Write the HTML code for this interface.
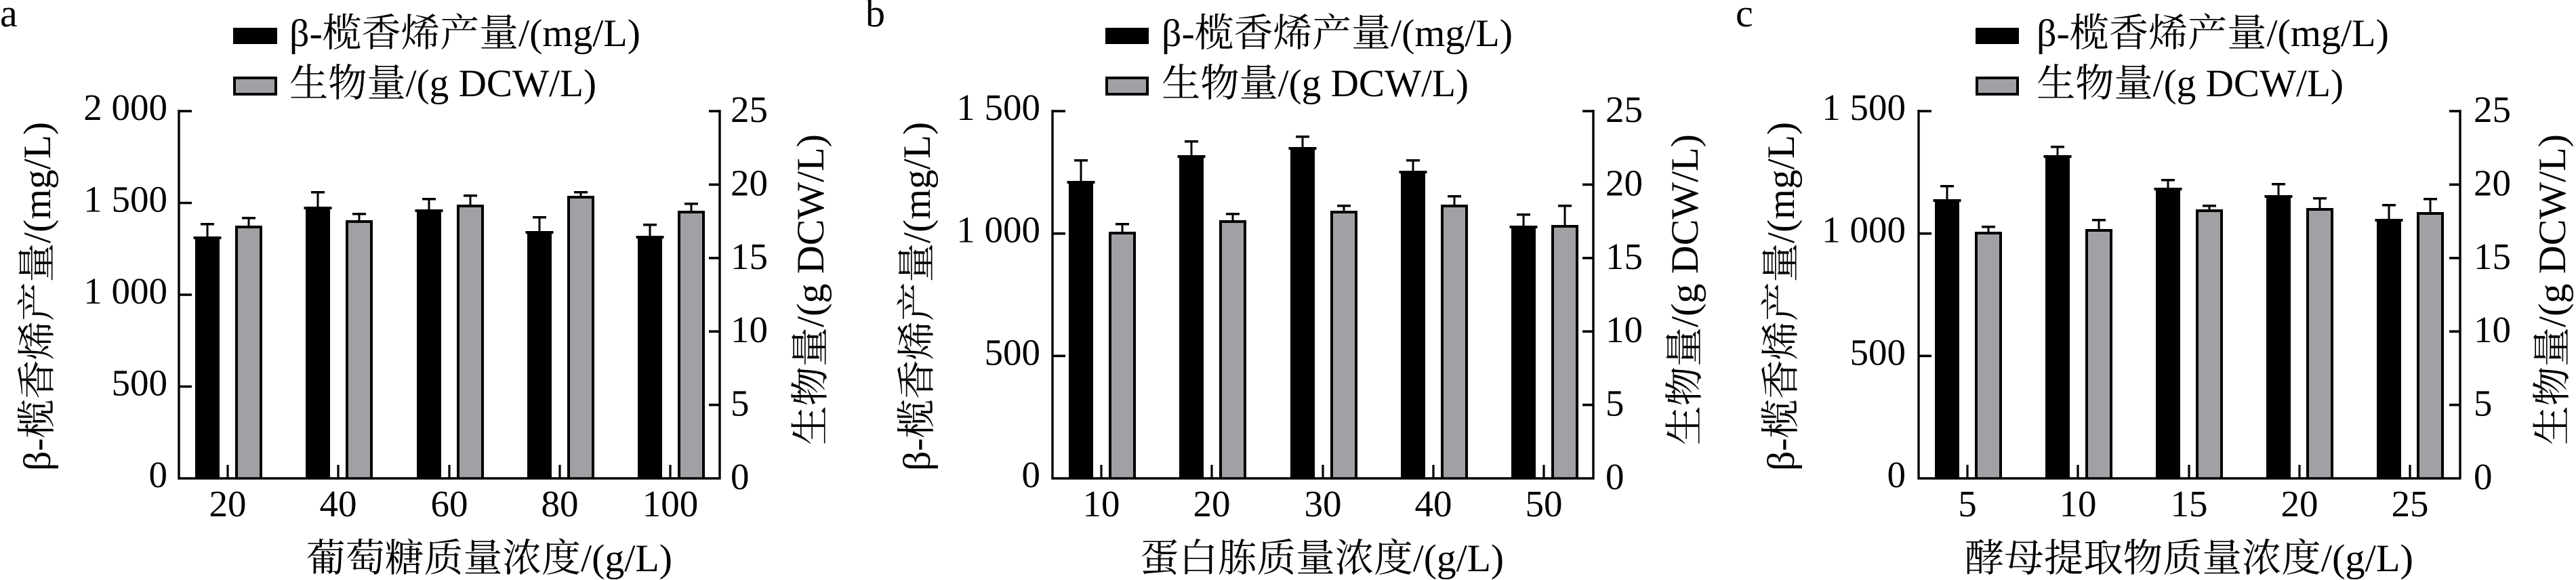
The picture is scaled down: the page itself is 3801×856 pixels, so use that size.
<!DOCTYPE html>
<html><head><meta charset="utf-8"><style>
html,body{margin:0;padding:0;background:#fff;}
svg{display:block;}
text{font-family:"Liberation Serif","Noto Serif CJK SC",serif;fill:#000;}
.t{font-size:55px;}
.l{font-size:57px;}
.ax{fill:none;stroke:#000;stroke-width:3.4;}
.tk{fill:none;stroke:#000;stroke-width:3.6;}
.xt{fill:none;stroke:#000;stroke-width:3.2;}
.g{fill:#a0a1a5;}
</style></head><body>
<svg xmlns="http://www.w3.org/2000/svg" width="3801" height="856" viewBox="0 0 3801 856">
<rect width="3801" height="856" fill="#fff"/>

<!-- ================= PANEL A ================= -->
<text x="0" y="39" font-size="58">a</text>
<rect x="344" y="41" width="65" height="24" fill="#000"/>
<rect x="346" y="115" width="61" height="24" class="g" stroke="#000" stroke-width="4"/>
<text x="427" y="68" class="l" textLength="518" lengthAdjust="spacingAndGlyphs">β-榄香烯产量/(mg/L)</text>
<text x="427" y="142" class="l" textLength="453" lengthAdjust="spacingAndGlyphs">生物量/(g DCW/L)</text>

<g fill="#000">
<g transform="translate(306 0)"><path d="M-18 349H18V706H-18Z M-20.5 349h41v4h-41Z M-1.5 329h3V349h-3Z M-10 329h20v3.5h-20Z"/></g>
<g transform="translate(367 0)"><path d="M-20 333H20V706H-20Z M-1.5 320h3V333h-3Z M-10 320h20v3.5h-20Z"/><rect x="-16" y="337" width="32" height="369" class="g"/></g>
<g transform="translate(469 0)"><path d="M-18 305H18V706H-18Z M-20.5 305h41v4h-41Z M-1.5 282h3V305h-3Z M-10 282h20v3.5h-20Z"/></g>
<g transform="translate(530 0)"><path d="M-20 325H20V706H-20Z M-1.5 314h3V325h-3Z M-10 314h20v3.5h-20Z"/><rect x="-16" y="329" width="32" height="377" class="g"/></g>
<g transform="translate(633 0)"><path d="M-18 309H18V706H-18Z M-20.5 309h41v4h-41Z M-1.5 292h3V309h-3Z M-10 292h20v3.5h-20Z"/></g>
<g transform="translate(694 0)"><path d="M-20 302H20V706H-20Z M-1.5 287h3V302h-3Z M-10 287h20v3.5h-20Z"/><rect x="-16" y="306" width="32" height="400" class="g"/></g>
<g transform="translate(796 0)"><path d="M-18 341H18V706H-18Z M-20.5 341h41v4h-41Z M-1.5 319h3V341h-3Z M-10 319h20v3.5h-20Z"/></g>
<g transform="translate(857 0)"><path d="M-20 289H20V706H-20Z M-1.5 282h3V289h-3Z M-10 282h20v3.5h-20Z"/><rect x="-16" y="293" width="32" height="413" class="g"/></g>
<g transform="translate(959 0)"><path d="M-18 348H18V706H-18Z M-20.5 348h41v4h-41Z M-1.5 330h3V348h-3Z M-10 330h20v3.5h-20Z"/></g>
<g transform="translate(1020 0)"><path d="M-20 311H20V706H-20Z M-1.5 299h3V311h-3Z M-10 299h20v3.5h-20Z"/><rect x="-16" y="315" width="32" height="391" class="g"/></g>
</g>

<path class="ax" d="M264 162V706H1062V162"/>
<path class="tk" d="M264 570.5h19M264 435h19M264 299.5h19M264 164h19"/>
<path class="tk" d="M1062 597.6h-16M1062 489.2h-16M1062 380.8h-16M1062 272.4h-16M1062 164h-16"/>
<path class="xt" d="M336 706v-20M499 706v-20M663 706v-20M826 706v-20M989 706v-20"/>

<g class="t" text-anchor="end">
<text x="247" y="177">2 000</text>
<text x="247" y="312.5">1 500</text>
<text x="247" y="448">1 000</text>
<text x="247" y="583.5">500</text>
<text x="247" y="719">0</text>
</g>
<g class="t">
<text x="1078" y="180">25</text>
<text x="1078" y="288.4">20</text>
<text x="1078" y="396.8">15</text>
<text x="1078" y="505.2">10</text>
<text x="1078" y="613.6">5</text>
<text x="1078" y="722">0</text>
</g>
<g class="t" text-anchor="middle">
<text x="336" y="762">20</text>
<text x="499" y="762">40</text>
<text x="663" y="762">60</text>
<text x="826" y="762">80</text>
<text x="989" y="762">100</text>
</g>
<text class="l" transform="translate(74 437.5) rotate(-90)" text-anchor="middle" textLength="515" lengthAdjust="spacingAndGlyphs">β-榄香烯产量/(mg/L)</text>
<text class="l" transform="translate(1215 427.5) rotate(-90)" text-anchor="middle" textLength="459" lengthAdjust="spacingAndGlyphs">生物量/(g DCW/L)</text>
<text class="l" x="452" y="843" textLength="540" lengthAdjust="spacingAndGlyphs">葡萄糖质量浓度/(g/L)</text>

<!-- ================= PANEL B ================= -->
<text x="1277" y="39" font-size="58">b</text>
<rect x="1631" y="41" width="64" height="24" fill="#000"/>
<rect x="1633" y="115" width="60" height="24" class="g" stroke="#000" stroke-width="4"/>
<text x="1714" y="68" class="l" textLength="518" lengthAdjust="spacingAndGlyphs">β-榄香烯产量/(mg/L)</text>
<text x="1714" y="142" class="l" textLength="453" lengthAdjust="spacingAndGlyphs">生物量/(g DCW/L)</text>

<g fill="#000">
<g transform="translate(1595 0)"><path d="M-18 267H18V706H-18Z M-20.5 267h41v4h-41Z M-1.5 235h3V267h-3Z M-10 235h20v3.5h-20Z"/></g>
<g transform="translate(1656 0)"><path d="M-20 342H20V706H-20Z M-1.5 329h3V342h-3Z M-10 329h20v3.5h-20Z"/><rect x="-16" y="346" width="32" height="360" class="g"/></g>
<g transform="translate(1758 0)"><path d="M-18 229H18V706H-18Z M-20.5 229h41v4h-41Z M-1.5 207h3V229h-3Z M-10 207h20v3.5h-20Z"/></g>
<g transform="translate(1819 0)"><path d="M-20 325H20V706H-20Z M-1.5 314h3V325h-3Z M-10 314h20v3.5h-20Z"/><rect x="-16" y="329" width="32" height="377" class="g"/></g>
<g transform="translate(1922 0)"><path d="M-18 217H18V706H-18Z M-20.5 217h41v4h-41Z M-1.5 200h3V217h-3Z M-10 200h20v3.5h-20Z"/></g>
<g transform="translate(1983 0)"><path d="M-20 311H20V706H-20Z M-1.5 302h3V311h-3Z M-10 302h20v3.5h-20Z"/><rect x="-16" y="315" width="32" height="391" class="g"/></g>
<g transform="translate(2085 0)"><path d="M-18 252H18V706H-18Z M-20.5 252h41v4h-41Z M-1.5 235h3V252h-3Z M-10 235h20v3.5h-20Z"/></g>
<g transform="translate(2146 0)"><path d="M-20 302H20V706H-20Z M-1.5 288h3V302h-3Z M-10 288h20v3.5h-20Z"/><rect x="-16" y="306" width="32" height="400" class="g"/></g>
<g transform="translate(2248 0)"><path d="M-18 333H18V706H-18Z M-20.5 333h41v4h-41Z M-1.5 315h3V333h-3Z M-10 315h20v3.5h-20Z"/></g>
<g transform="translate(2309 0)"><path d="M-20 332H20V706H-20Z M-1.5 302h3V332h-3Z M-10 302h20v3.5h-20Z"/><rect x="-16" y="336" width="32" height="370" class="g"/></g>
</g>

<path class="ax" d="M1553 162V706H2351V162"/>
<path class="tk" d="M1553 525.3h19M1553 344.7h19M1553 164h19"/>
<path class="tk" d="M2351 597.6h-16M2351 489.2h-16M2351 380.8h-16M2351 272.4h-16M2351 164h-16"/>
<path class="xt" d="M1625 706v-20M1788 706v-20M1952 706v-20M2115 706v-20M2278 706v-20"/>

<g class="t" text-anchor="end">
<text x="1535" y="177">1 500</text>
<text x="1535" y="357.7">1 000</text>
<text x="1535" y="538.3">500</text>
<text x="1535" y="719">0</text>
</g>
<g class="t">
<text x="2369" y="180">25</text>
<text x="2369" y="288.4">20</text>
<text x="2369" y="396.8">15</text>
<text x="2369" y="505.2">10</text>
<text x="2369" y="613.6">5</text>
<text x="2369" y="722">0</text>
</g>
<g class="t" text-anchor="middle">
<text x="1625" y="762">10</text>
<text x="1788" y="762">20</text>
<text x="1952" y="762">30</text>
<text x="2115" y="762">40</text>
<text x="2278" y="762">50</text>
</g>
<text class="l" transform="translate(1372 437.5) rotate(-90)" text-anchor="middle" textLength="515" lengthAdjust="spacingAndGlyphs">β-榄香烯产量/(mg/L)</text>
<text class="l" transform="translate(2505 427.5) rotate(-90)" text-anchor="middle" textLength="459" lengthAdjust="spacingAndGlyphs">生物量/(g DCW/L)</text>
<text class="l" x="1682" y="843" textLength="537" lengthAdjust="spacingAndGlyphs">蛋白胨质量浓度/(g/L)</text>

<!-- ================= PANEL C ================= -->
<text x="2561" y="39" font-size="58">c</text>
<rect x="2915" y="41" width="64" height="24" fill="#000"/>
<rect x="2917" y="115" width="60" height="24" class="g" stroke="#000" stroke-width="4"/>
<text x="3005" y="68" class="l" textLength="520" lengthAdjust="spacingAndGlyphs">β-榄香烯产量/(mg/L)</text>
<text x="3005" y="142" class="l" textLength="453" lengthAdjust="spacingAndGlyphs">生物量/(g DCW/L)</text>

<g fill="#000">
<g transform="translate(2873 0)"><path d="M-18 294H18V706H-18Z M-20.5 294h41v4h-41Z M-1.5 273h3V294h-3Z M-10 273h20v3.5h-20Z"/></g>
<g transform="translate(2934 0)"><path d="M-20 342H20V706H-20Z M-1.5 333h3V342h-3Z M-10 333h20v3.5h-20Z"/><rect x="-16" y="346" width="32" height="360" class="g"/></g>
<g transform="translate(3036 0)"><path d="M-18 229H18V706H-18Z M-20.5 229h41v4h-41Z M-1.5 215h3V229h-3Z M-10 215h20v3.5h-20Z"/></g>
<g transform="translate(3097 0)"><path d="M-20 338H20V706H-20Z M-1.5 323h3V338h-3Z M-10 323h20v3.5h-20Z"/><rect x="-16" y="342" width="32" height="364" class="g"/></g>
<g transform="translate(3199 0)"><path d="M-18 277H18V706H-18Z M-20.5 277h41v4h-41Z M-1.5 264h3V277h-3Z M-10 264h20v3.5h-20Z"/></g>
<g transform="translate(3260 0)"><path d="M-20 309H20V706H-20Z M-1.5 302h3V309h-3Z M-10 302h20v3.5h-20Z"/><rect x="-16" y="313" width="32" height="393" class="g"/></g>
<g transform="translate(3362 0)"><path d="M-18 288H18V706H-18Z M-20.5 288h41v4h-41Z M-1.5 270h3V288h-3Z M-10 270h20v3.5h-20Z"/></g>
<g transform="translate(3423 0)"><path d="M-20 307H20V706H-20Z M-1.5 291h3V307h-3Z M-10 291h20v3.5h-20Z"/><rect x="-16" y="311" width="32" height="395" class="g"/></g>
<g transform="translate(3525 0)"><path d="M-18 323H18V706H-18Z M-20.5 323h41v4h-41Z M-1.5 301h3V323h-3Z M-10 301h20v3.5h-20Z"/></g>
<g transform="translate(3586 0)"><path d="M-20 313H20V706H-20Z M-1.5 292h3V313h-3Z M-10 292h20v3.5h-20Z"/><rect x="-16" y="317" width="32" height="389" class="g"/></g>
</g>

<path class="ax" d="M2831 162V706H3630V162"/>
<path class="tk" d="M2831 525.3h19M2831 344.7h19M2831 164h19"/>
<path class="tk" d="M3630 597.6h-16M3630 489.2h-16M3630 380.8h-16M3630 272.4h-16M3630 164h-16"/>
<path class="xt" d="M2903 706v-20M3066 706v-20M3230 706v-20M3393 706v-20M3556 706v-20"/>

<g class="t" text-anchor="end">
<text x="2812" y="177">1 500</text>
<text x="2812" y="357.7">1 000</text>
<text x="2812" y="538.3">500</text>
<text x="2812" y="719">0</text>
</g>
<g class="t">
<text x="3650" y="180">25</text>
<text x="3650" y="288.4">20</text>
<text x="3650" y="396.8">15</text>
<text x="3650" y="505.2">10</text>
<text x="3650" y="613.6">5</text>
<text x="3650" y="722">0</text>
</g>
<g class="t" text-anchor="middle">
<text x="2903" y="762">5</text>
<text x="3066" y="762">10</text>
<text x="3230" y="762">15</text>
<text x="3393" y="762">20</text>
<text x="3556" y="762">25</text>
</g>
<text class="l" transform="translate(2647 437.5) rotate(-90)" text-anchor="middle" textLength="515" lengthAdjust="spacingAndGlyphs">β-榄香烯产量/(mg/L)</text>
<text class="l" transform="translate(3785 427.5) rotate(-90)" text-anchor="middle" textLength="459" lengthAdjust="spacingAndGlyphs">生物量/(g DCW/L)</text>
<text class="l" x="2899" y="843" textLength="662" lengthAdjust="spacingAndGlyphs">酵母提取物质量浓度/(g/L)</text>
</svg>
</body></html>
